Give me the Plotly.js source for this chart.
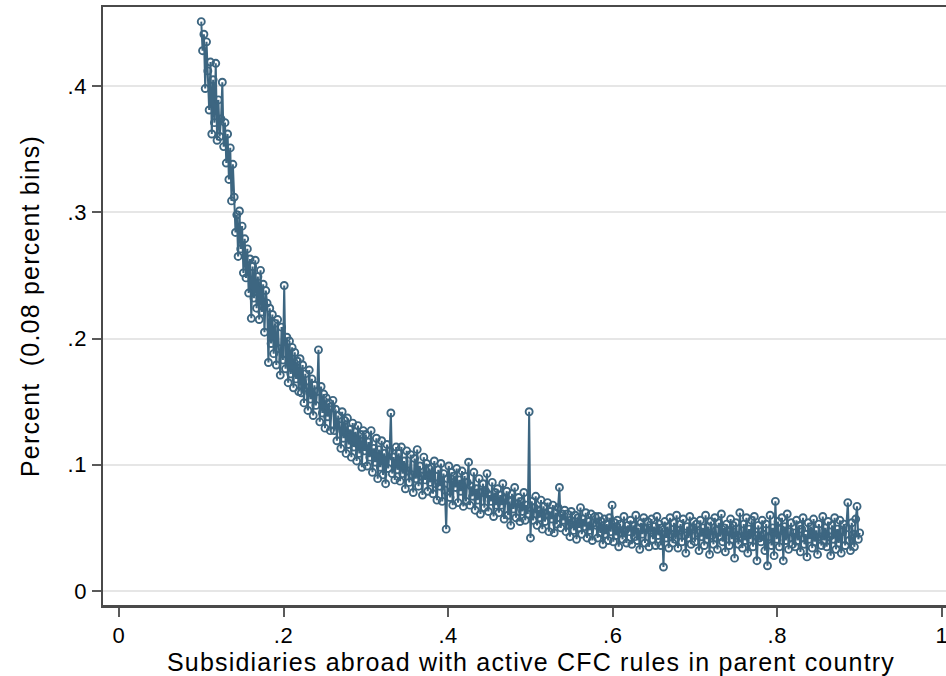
<!DOCTYPE html>
<html>
<head>
<meta charset="utf-8">
<script src="https://cdn.plot.ly/plotly-3.0.1.min.js"></script>
<style>
html,body{margin:0;padding:0;overflow:hidden;background:#fff;}
#chart .xtitle,#chart .ytitle{letter-spacing:1.2px;}
#chart .xtick text,#chart .ytick text{letter-spacing:0.6px;}
</style>
</head>
<body>
<div id="chart"></div>
<script>
// Bin grid (share of subsidiaries), bins of 0.0016 shown here
const binStart = 0.1;
const binWidth = 0.0016;

const percentValues = [
  0.451,0.428,0.441,0.398,0.435,0.412,0.381,0.419,0.362,0.405,0.371,0.418,0.357,0.389,0.360,0.374,0.403,0.352,0.371,0.339,0.362,0.326,0.351,0.309,0.338,
  0.312,0.284,0.298,0.265,0.301,0.271,0.289,0.252,0.279,0.248,0.271,0.236,0.263,0.216,0.257,0.232,0.262,0.224,0.249,0.215,0.254,0.221,0.243,0.205,0.238,
  0.228,0.181,0.224,0.196,0.219,0.188,0.212,0.179,0.215,0.192,0.171,0.209,0.183,0.242,0.176,0.201,0.165,0.198,0.172,0.193,0.161,0.189,0.168,0.182,0.158,
  0.184,0.157,0.179,0.149,0.172,0.161,0.143,0.175,0.152,0.168,0.139,0.163,0.147,0.158,0.191,0.134,0.162,0.141,0.156,0.129,0.153,0.138,0.149,0.127,0.146,
  0.151,0.127,0.144,0.119,0.139,0.131,0.113,0.142,0.121,0.135,0.109,0.137,0.116,0.128,0.106,0.133,0.114,0.126,0.103,0.131,0.109,0.124,0.098,0.127,0.111,
  0.124,0.099,0.118,0.106,0.127,0.094,0.113,0.102,0.121,0.089,0.112,0.098,0.119,0.092,0.109,0.085,0.116,0.097,0.111,0.141,0.093,0.106,0.088,0.114,0.096,
  0.109,0.087,0.114,0.093,0.103,0.081,0.111,0.095,0.086,0.108,0.092,0.078,0.105,0.089,0.112,0.083,0.099,0.091,0.076,0.106,0.088,0.101,0.079,0.097,0.086,
  0.098,0.077,0.103,0.085,0.072,0.096,0.083,0.101,0.071,0.093,0.080,0.049,0.089,0.099,0.074,0.094,0.068,0.091,0.082,0.097,0.070,0.088,0.079,0.095,0.067,
  0.091,0.071,0.086,0.102,0.068,0.083,0.075,0.094,0.064,0.081,0.072,0.089,0.061,0.078,0.085,0.066,0.079,0.093,0.063,0.076,0.071,0.086,0.059,0.078,0.068,
  0.081,0.062,0.076,0.068,0.085,0.057,0.073,0.079,0.060,0.071,0.052,0.077,0.065,0.082,0.058,0.069,0.074,0.055,0.071,0.063,0.078,0.056,0.068,0.061,0.142,
  0.042,0.071,0.056,0.066,0.075,0.052,0.064,0.058,0.072,0.049,0.067,0.055,0.061,0.070,0.047,0.063,0.057,0.068,0.046,0.062,0.053,0.066,0.082,0.050,0.061,
  0.056,0.064,0.047,0.061,0.052,0.043,0.063,0.055,0.048,0.060,0.041,0.058,0.050,0.066,0.045,0.057,0.051,0.062,0.042,0.055,0.048,0.061,0.040,0.054,0.059,
  0.052,0.042,0.059,0.046,0.055,0.037,0.057,0.045,0.053,0.040,0.058,0.047,0.068,0.039,0.054,0.044,0.056,0.035,0.053,0.046,0.041,0.059,0.048,0.038,0.052,
  0.047,0.056,0.037,0.052,0.043,0.060,0.040,0.050,0.033,0.054,0.045,0.058,0.038,0.049,0.055,0.035,0.048,0.057,0.041,0.051,0.036,0.059,0.044,0.053,0.036,
  0.050,0.019,0.055,0.042,0.051,0.034,0.058,0.045,0.038,0.054,0.041,0.060,0.034,0.048,0.053,0.039,0.057,0.044,0.030,0.051,0.042,0.059,0.037,0.049,0.055,
  0.039,0.053,0.046,0.032,0.056,0.043,0.050,0.036,0.060,0.041,0.051,0.029,0.055,0.044,0.037,0.058,0.048,0.033,0.054,0.043,0.061,0.039,0.050,0.031,0.053,
  0.047,0.036,0.057,0.041,0.052,0.026,0.054,0.044,0.037,0.062,0.043,0.034,0.053,0.040,0.058,0.030,0.049,0.041,0.056,0.035,0.059,0.044,0.024,0.052,0.042,
  0.039,0.056,0.045,0.032,0.053,0.020,0.043,0.060,0.036,0.050,0.028,0.071,0.041,0.055,0.035,0.049,0.058,0.024,0.051,0.040,0.061,0.033,0.047,0.054,0.037,
  0.046,0.035,0.056,0.040,0.052,0.031,0.049,0.058,0.037,0.045,0.027,0.054,0.041,0.051,0.034,0.057,0.039,0.048,0.029,0.053,0.043,0.036,0.059,0.040,0.050,
  0.035,0.055,0.043,0.028,0.052,0.041,0.058,0.033,0.049,0.038,0.056,0.030,0.047,0.053,0.036,0.050,0.070,0.040,0.032,0.054,0.045,0.035,0.057,0.067,0.041,
  0.046
];

const xTickVals = [0, 0.2, 0.4, 0.6, 0.8, 1];
const xTickText = ['0', '.2', '.4', '.6', '.8', '1'];
const yTickVals = [0, 0.1, 0.2, 0.3, 0.4];
const yTickText = ['0', '.1', '.2', '.3', '.4'];

const xTitle = 'Subsidiaries abroad with active CFC rules in parent country';
const yTitle = 'Percent \u00a0(0.08 percent bins)';

const binX = percentValues.map((_, i) => +(binStart + i * binWidth).toFixed(4));

const lineColor = '#3d6681';
const axisColor = '#4a4a4a';
const fontFamily = '"Liberation Sans", Arial, Helvetica, sans-serif';

const trace = {
  type: 'scatter',
  mode: 'lines+markers',
  x: binX,
  y: percentValues,
  line: {color: lineColor, width: 2},
  marker: {symbol: 'circle-open', size: 7, color: lineColor, line: {width: 1.9, color: lineColor}},
  hoverinfo: 'x+y',
  showlegend: false
};

const layout = {
  width: 959,
  height: 676,
  margin: {l: 103, r: 0, t: 7, b: 71, pad: 0},
  paper_bgcolor: '#ffffff',
  plot_bgcolor: '#ffffff',
  font: {family: fontFamily, color: '#000000'},
  xaxis: {
    range: [-0.0194, 1.0207],
    tickvals: xTickVals,
    ticktext: xTickText,
    ticks: 'outside',
    ticklen: 9,
    tickwidth: 2,
    tickcolor: '#5a5a5a',
    tickfont: {size: 22, family: fontFamily, color: '#000'},
    showline: true,
    linecolor: axisColor,
    linewidth: 2.5,
    mirror: true,
    showgrid: false,
    zeroline: false,
    title: {text: xTitle, font: {size: 25, family: fontFamily, color: '#000'}, standoff: 4}
  },
  yaxis: {
    range: [-0.0111, 0.4626],
    tickvals: yTickVals,
    ticktext: yTickText,
    ticks: 'outside',
    ticklen: 9,
    tickwidth: 2,
    tickcolor: '#5a5a5a',
    tickfont: {size: 22, family: fontFamily, color: '#000'},
    showline: true,
    linecolor: axisColor,
    linewidth: 2.5,
    mirror: false,
    showgrid: true,
    gridcolor: '#e6e6e6',
    gridwidth: 2,
    zeroline: false,
    title: {text: yTitle, font: {size: 25, family: fontFamily, color: '#000'}, standoff: 22}
  }
};

Plotly.newPlot('chart', [trace], layout, {displayModeBar: false, staticPlot: true});
</script>
</body>
</html>
